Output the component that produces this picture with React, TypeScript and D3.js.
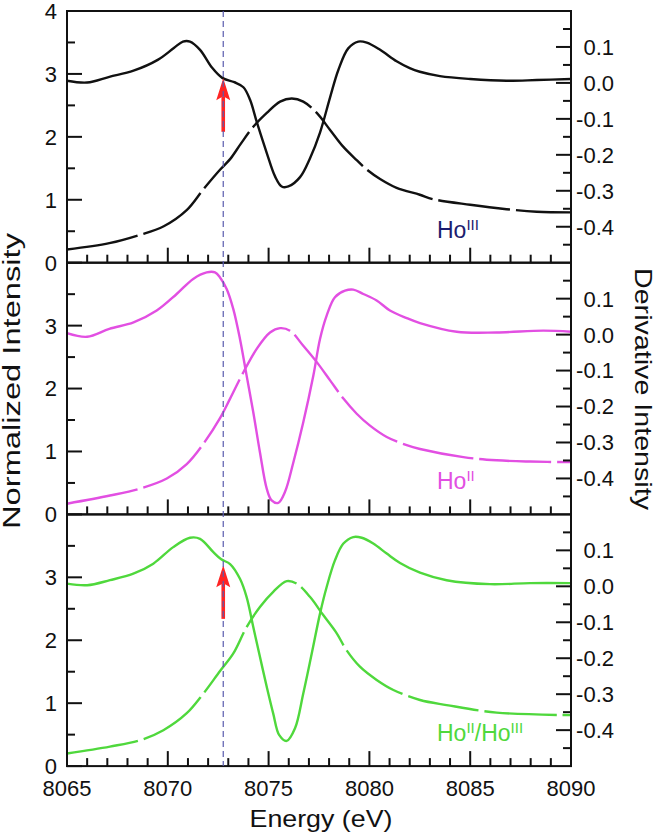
import React from 'react'
import * as d3 from 'd3'

// axis ticks
const energyMajor = [8065, 8070, 8075, 8080, 8085, 8090]
const energyMinor = d3.range(8066, 8090, 1).filter(e => e % 5 !== 0)
const normMajor = [0, 1, 2, 3]
const normMinor = [0.5, 1.5, 2.5, 3.5]
const derivMajor = [0.1, 0.0, -0.1, -0.2, -0.3, -0.4]
const derivLabels = ['0.1', '0.0', '-0.1', '-0.2', '-0.3', '-0.4']
const derivMinor = [0.15, 0.05, -0.05, -0.15, -0.25, -0.35, -0.45]

// edge position marker (eV)
const edgeEnergy = 8072.75

// [energy (eV), derivative]
const hoIIIDeriv: [number, number][] = [
  [8065.0, 0.006], [8066.0, 0.001], [8067.1, 0.017], [8068.3, 0.034], [8069.5, 0.064],
  [8070.3, 0.097], [8070.75, 0.115], [8071.1, 0.115], [8071.6, 0.092], [8072.2, 0.042],
  [8072.7, 0.014], [8073.3, 0.002], [8073.75, -0.012], [8074.08, -0.047], [8074.42, -0.11],
  [8074.91, -0.195], [8075.32, -0.26], [8075.65, -0.288], [8075.98, -0.288], [8076.56, -0.262],
  [8077.05, -0.21], [8077.55, -0.138], [8078.05, -0.04], [8078.46, 0.036], [8078.95, 0.096],
  [8079.45, 0.115], [8079.87, 0.112], [8080.53, 0.092], [8081.35, 0.06], [8082.0, 0.041],
  [8082.5, 0.031], [8083.5, 0.019], [8085.0, 0.011], [8086.8, 0.006], [8088.3, 0.008], [8090, 0.011],
]
// [energy (eV), normalized intensity]
const hoIIINorm: [number, number][] = [
  [8065.0, 0.21], [8067.1, 0.31], [8068.6, 0.44], [8069.8, 0.58], [8070.95, 0.84],
  [8071.75, 1.16], [8072.6, 1.48], [8073.1, 1.65], [8073.6, 1.88], [8074.24, 2.16],
  [8074.91, 2.38], [8075.57, 2.56], [8076.15, 2.61], [8076.72, 2.56], [8077.39, 2.38],
  [8078.05, 2.11], [8078.71, 1.84], [8079.37, 1.63], [8079.87, 1.48], [8080.53, 1.33],
  [8081.35, 1.19], [8082.5, 1.08], [8083.15, 1.01], [8085.0, 0.92], [8086.8, 0.85],
  [8088.3, 0.81], [8090, 0.80],
]

const hoIIDeriv: [number, number][] = [
  [8065.0, 0.004], [8066.0, -0.006], [8067.1, 0.016], [8068.3, 0.034], [8069.45, 0.067],
  [8070.44, 0.113], [8071.26, 0.155], [8071.93, 0.173], [8072.34, 0.173], [8072.59, 0.159],
  [8072.92, 0.127], [8073.25, 0.071], [8073.58, -0.012], [8073.91, -0.114], [8074.24, -0.216],
  [8074.57, -0.327], [8074.91, -0.429], [8075.15, -0.461], [8075.48, -0.468], [8075.81, -0.438],
  [8076.23, -0.355], [8076.72, -0.244], [8077.22, -0.114], [8077.55, -0.012], [8077.88, 0.053],
  [8078.29, 0.104], [8078.79, 0.122], [8079.2, 0.125], [8079.7, 0.113], [8080.36, 0.095],
  [8081.02, 0.067], [8081.85, 0.046], [8082.51, 0.032], [8084.33, 0.008], [8086.31, 0.006],
  [8088.63, 0.011], [8090, 0.008],
]
const hoIINorm: [number, number][] = [
  [8065.0, 0.17], [8067.13, 0.30], [8068.62, 0.41], [8069.95, 0.57], [8070.94, 0.80],
  [8071.76, 1.12], [8072.59, 1.53], [8073.09, 1.84], [8073.75, 2.26], [8074.41, 2.63],
  [8075.07, 2.89], [8075.57, 2.96], [8076.06, 2.92], [8076.72, 2.68], [8077.39, 2.42],
  [8078.05, 2.13], [8078.71, 1.84], [8079.37, 1.60], [8080.03, 1.41], [8080.86, 1.23],
  [8081.85, 1.10], [8082.51, 1.04], [8084.66, 0.91], [8086.31, 0.86], [8087.97, 0.84], [8090, 0.83],
]

const mixedDeriv: [number, number][] = [
  [8065.0, 0.0075], [8066.0, 0.003], [8067.13, 0.017], [8068.29, 0.035], [8069.28, 0.063],
  [8070.27, 0.109], [8071.1, 0.135], [8071.6, 0.132], [8072.26, 0.095], [8072.65, 0.075],
  [8073.09, 0.062], [8073.58, 0.021], [8073.91, -0.03], [8074.24, -0.113], [8074.57, -0.196],
  [8074.91, -0.28], [8075.23, -0.354], [8075.53, -0.414], [8075.9, -0.43], [8076.31, -0.395],
  [8076.72, -0.298], [8077.14, -0.187], [8077.55, -0.076], [8077.88, -0.002], [8078.29, 0.072],
  [8078.71, 0.119], [8079.2, 0.137], [8079.62, 0.135], [8080.19, 0.119], [8080.86, 0.091],
  [8081.52, 0.065], [8082.51, 0.038], [8083.83, 0.017], [8085.98, 0.006], [8087.97, 0.009], [8090, 0.009],
]
const mixedNorm: [number, number][] = [
  [8065.0, 0.20], [8067.13, 0.31], [8068.62, 0.41], [8069.78, 0.57], [8070.94, 0.84],
  [8071.76, 1.15], [8072.59, 1.51], [8073.25, 1.79], [8073.91, 2.21], [8074.57, 2.53],
  [8075.23, 2.77], [8075.9, 2.94], [8076.39, 2.90], [8077.05, 2.69], [8077.71, 2.40],
  [8078.38, 2.11], [8078.87, 1.84], [8079.53, 1.58], [8080.36, 1.37], [8081.19, 1.21],
  [8082.51, 1.05], [8083.83, 0.97], [8086.31, 0.85], [8090, 0.81],
]

// arrows: [tail, tip] on the normalized scale, null where none
const arrowSpans: ([number, number] | null)[] = [[2.08, 2.93], null, [2.34, 3.19]]

const panels = [
  { deriv: hoIIIDeriv, norm: hoIIINorm, color: '#111111', labelColor: '#1c1c6e', label: [['Ho', 'III']] },
  { deriv: hoIIDeriv, norm: hoIINorm, color: '#e24fe2', labelColor: '#e24fe2', label: [['Ho', 'II']] },
  { deriv: mixedDeriv, norm: mixedNorm, color: '#4fd83c', labelColor: '#4fd83c', label: [['Ho', 'II'], ['/Ho', 'III']] },
]

const FONT = 'Arial, "Liberation Sans", sans-serif'

export default function App() {
  const W = 661, H = 834
  const left = 67, right = 571
  const top = 11, panelH = 251.7
  const x = d3.scaleLinear().domain([8065, 8090]).range([left, right])
  const major = 15, minor = 8

  return (
    <svg width={W} height={H} style={{ position: 'absolute', left: 0, top: 0, background: '#fff' }}
      fontFamily={FONT}>
      <rect width={W} height={H} fill="#fff" />
      {panels.map((p, i) => {
        const y0 = top + i * panelH
        const y1 = y0 + panelH
        const yN = d3.scaleLinear().domain([0, 4]).range([y1, y0])
        const yD = d3.scaleLinear().domain([-0.5, 0.2]).range([y1, y0])
        const normLine = d3.line<[number, number]>().x(d => x(d[0])).y(d => yN(d[1])).curve(d3.curveCatmullRom.alpha(0.5))
        const derivLine = d3.line<[number, number]>().x(d => x(d[0])).y(d => yD(d[1])).curve(d3.curveCatmullRom.alpha(0.5))
        const arrow = arrowSpans[i]
        const ax = x(edgeEnergy)
        const lbls = i === 0 ? [...normMajor, 4] : normMajor
        return (
          <g key={i}>
            <path d={normLine(p.norm) || ''} fill="none" stroke={p.color} strokeWidth={2.4} strokeDasharray="72 6" />
            <path d={derivLine(p.deriv) || ''} fill="none" stroke={p.color} strokeWidth={2.4} />
            {arrow && (
              <g fill="#ff2424" stroke="none">
                <rect x={ax - 1.8} y={yN(arrow[1]) + 18} width={3.6} height={yN(arrow[0]) - yN(arrow[1]) - 18} />
                <path d={`M${ax},${yN(arrow[1])} L${ax + 7},${yN(arrow[1]) + 22} L${ax},${yN(arrow[1]) + 18} L${ax - 7},${yN(arrow[1]) + 22} Z`} />
              </g>
            )}
            {/* frame */}
            <rect x={left} y={y0} width={right - left} height={panelH} fill="none" stroke="#111" strokeWidth={2} />
            {/* bottom ticks */}
            {energyMajor.map(e => <line key={'bm' + e} x1={x(e)} x2={x(e)} y1={y1} y2={y1 - major} stroke="#111" strokeWidth={2} />)}
            {energyMinor.map(e => <line key={'bn' + e} x1={x(e)} x2={x(e)} y1={y1} y2={y1 - minor} stroke="#111" strokeWidth={2} />)}
            {/* left ticks */}
            {normMajor.map(v => <line key={'lm' + v} x1={left} x2={left + major} y1={yN(v)} y2={yN(v)} stroke="#111" strokeWidth={2} />)}
            {normMinor.map(v => <line key={'ln' + v} x1={left} x2={left + minor} y1={yN(v)} y2={yN(v)} stroke="#111" strokeWidth={2} />)}
            {lbls.map(v => (
              <text key={'lt' + v} x={left - 10} y={yN(v)} dy="0.36em" textAnchor="end" fontSize={22} fill="#111">{v}</text>
            ))}
            {/* right ticks */}
            {derivMajor.map(v => <line key={'rm' + v} x1={right} x2={right - major} y1={yD(v)} y2={yD(v)} stroke="#111" strokeWidth={2} />)}
            {derivMinor.map(v => <line key={'rn' + v} x1={right} x2={right - minor} y1={yD(v)} y2={yD(v)} stroke="#111" strokeWidth={2} />)}
            {derivMajor.map((v, k) => (
              <text key={'rt' + v} x={right + 43} y={yD(v)} dy="0.36em" textAnchor="end" fontSize={22} fill="#111">{derivLabels[k]}</text>
            ))}
            {/* series label */}
            <text x={437} y={y1 - 25} fontSize={23} fill={p.labelColor}>
              {p.label.map(([base, sup], k) => (
                <React.Fragment key={k}>
                  <tspan dy={k === 0 ? 0 : 8}>{base}</tspan>
                  <tspan fontSize={15} dy={-8}>{sup}</tspan>
                </React.Fragment>
              ))}
            </text>
          </g>
        )
      })}
      {/* edge marker */}
      <line x1={x(edgeEnergy)} x2={x(edgeEnergy)} y1={top} y2={top + 3 * panelH} stroke="#5a5cae" strokeWidth={1.2} strokeDasharray="6 4" />
      {/* energy axis labels */}
      {energyMajor.map(e => (
        <text key={'el' + e} x={x(e)} y={796} textAnchor="middle" fontSize={22} fill="#111">{e}</text>
      ))}
      <text x={(left + right) / 2 + 2} y={827} textAnchor="middle" fontSize={24} textLength={143} lengthAdjust="spacingAndGlyphs" fill="#111">Energy (eV)</text>
      <text transform="translate(20,381) rotate(-90)" textAnchor="middle" fontSize={23} textLength={296} lengthAdjust="spacingAndGlyphs" fill="#111">Normalized Intensity</text>
      <text transform="translate(635,389) rotate(90)" textAnchor="middle" fontSize={24} textLength={242} lengthAdjust="spacingAndGlyphs" fill="#111">Derivative Intensity</text>
    </svg>
  )
}
